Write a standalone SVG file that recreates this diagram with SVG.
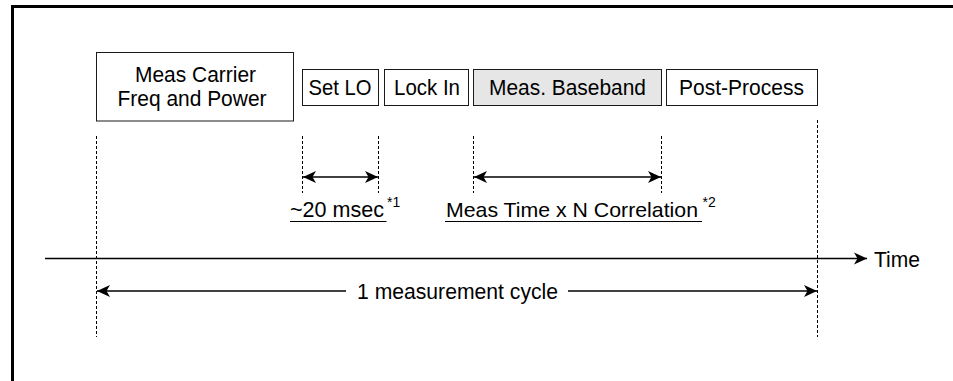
<svg xmlns="http://www.w3.org/2000/svg" width="953" height="381" viewBox="0 0 953 381">
  <style>
    .box { fill: #ffffff; stroke: #1a1a1a; stroke-width: 1; }
    .shaded { fill: #e6e6e6; }
    .lbl { font-family: "Liberation Sans", Arial, sans-serif; font-size: 21.5px; fill: #000000; }
    .lbl2 { font-family: "Liberation Sans", Arial, sans-serif; font-size: 22px; fill: #000000; }
    .sup { font-family: "Liberation Sans", Arial, sans-serif; font-size: 14px; fill: #000000; }
    .dash { stroke: #000000; stroke-width: 1; stroke-dasharray: 3 2; fill: none; }
    .arr { stroke: #000000; stroke-width: 1.4; fill: none; }
    .ul { stroke: #000000; stroke-width: 1.2; }
  </style>
  <defs>
    <marker id="ah" markerUnits="userSpaceOnUse" markerWidth="14" markerHeight="14" viewBox="0 0 14 14" refX="13" refY="7" orient="auto-start-reverse">
      <path d="M0,1 L13,7 L0,13 L3.5,7 Z" fill="#000000"/>
    </marker>
  </defs>

  <rect x="0" y="0" width="953" height="381" fill="#ffffff"/>
  <path d="M12.5,381 V6.5 H953" fill="none" stroke="#000000" stroke-width="3"/>

  <g id="node-meas-carrier">
    <rect class="box" x="96.5" y="52.5" width="197" height="68.5"/>
    <text class="lbl" x="135" y="82" textLength="121" lengthAdjust="spacingAndGlyphs">Meas Carrier</text>
    <text class="lbl" x="117.5" y="106" textLength="149" lengthAdjust="spacingAndGlyphs">Freq and Power</text>
  </g>
  <g id="node-set-lo">
    <rect class="box" x="302.5" y="69.5" width="76" height="36"/>
    <text class="lbl" x="308.5" y="95" textLength="63" lengthAdjust="spacingAndGlyphs">Set LO</text>
  </g>
  <g id="node-lock-in">
    <rect class="box" x="384.5" y="69.5" width="84" height="36"/>
    <text class="lbl" x="394" y="95" textLength="66" lengthAdjust="spacingAndGlyphs">Lock In</text>
  </g>
  <g id="node-meas-baseband">
    <rect class="box shaded" x="473.5" y="69.5" width="188" height="36"/>
    <text class="lbl" x="489" y="95" textLength="157" lengthAdjust="spacingAndGlyphs">Meas. Baseband</text>
  </g>
  <g id="node-post-process">
    <rect class="box" x="666.5" y="69.5" width="151" height="36"/>
    <text class="lbl" x="679" y="95" textLength="125" lengthAdjust="spacingAndGlyphs">Post-Process</text>
  </g>

  <g id="connectors">
    <line class="dash" x1="96.5" y1="136" x2="96.5" y2="337"/>
    <line class="dash" x1="302.5" y1="136" x2="302.5" y2="193"/>
    <line class="dash" x1="378.5" y1="136" x2="378.5" y2="193"/>
    <line class="dash" x1="473.5" y1="136" x2="473.5" y2="193"/>
    <line class="dash" x1="661.5" y1="136" x2="661.5" y2="193"/>
    <line class="dash" x1="817.5" y1="120" x2="817.5" y2="337"/>

    <line class="arr" x1="303" y1="177" x2="378" y2="177" marker-start="url(#ah)" marker-end="url(#ah)"/>
    <line class="arr" x1="474" y1="177" x2="661" y2="177" marker-start="url(#ah)" marker-end="url(#ah)"/>

    <line class="arr" x1="45" y1="258.5" x2="867" y2="258.5" marker-end="url(#ah)"/>

    <line class="arr" x1="346" y1="291" x2="97" y2="291" marker-end="url(#ah)"/>
    <line class="arr" x1="568" y1="291" x2="817" y2="291" marker-end="url(#ah)"/>
  </g>

  <g id="labels">
    <text class="lbl2" x="290" y="216.5" textLength="94" lengthAdjust="spacingAndGlyphs">~20 msec</text>
    <line class="ul" x1="290" y1="221.5" x2="386.5" y2="221.5"/>
    <text class="sup" x="387" y="207">*1</text>

    <text class="lbl2" x="446" y="216.5" font-size="21" textLength="252" lengthAdjust="spacingAndGlyphs" style="font-size:21px">Meas Time x N Correlation</text>
    <line class="ul" x1="445" y1="221.5" x2="702" y2="221.5"/>
    <text class="sup" x="702.5" y="207">*2</text>

    <text class="lbl2" x="874" y="266.5" textLength="46" lengthAdjust="spacingAndGlyphs">Time</text>

    <text class="lbl2" x="357" y="298.5" textLength="201" lengthAdjust="spacingAndGlyphs">1 measurement cycle</text>
  </g>
</svg>
